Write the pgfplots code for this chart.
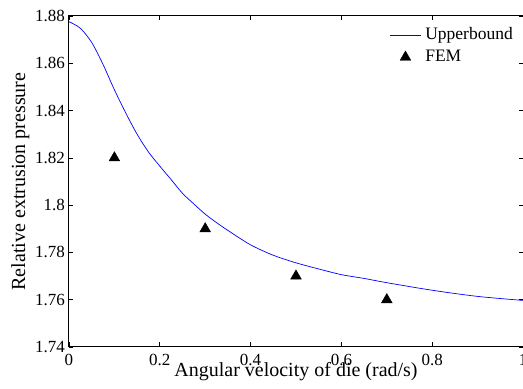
\documentclass[border=0pt]{standalone}
\usepackage{pgfplots}
\pgfplotsset{compat=1.18}
\usepackage{fontspec}
\setmainfont{Liberation Serif}
\usetikzlibrary{calc}
\begin{document}
\begin{tikzpicture}
\begin{axis}[
  name=ax,
  width=454pt, height=331pt, scale only axis,
  xmin=0, xmax=1, ymin=1.74, ymax=1.88,
  xtick={0,0.2,0.4,0.6,0.8,1},
  ytick={1.74,1.76,1.78,1.80,1.82,1.84,1.86,1.88},
  /pgf/number format/assume math mode=true,
  /pgf/number format/fixed,
  tick align=inside, major tick length=4.5pt,
  tick style={black, line width=0.6pt},
  axis line style={black, line width=1pt},
  ticklabel style={font=\fontsize{17}{19}\selectfont},
  xticklabel style={anchor=base, yshift=-19pt, inner sep=0pt},
  yticklabel style={anchor=east, inner sep=0pt, xshift=-4pt},
  label style={font=\fontsize{20}{22}\selectfont},
  xlabel={Angular velocity of die (rad/s)},
  ylabel={Relative extrusion pressure},
  xlabel style={at={(axis description cs:0.5,0)}, anchor=base, yshift=-30pt, inner sep=0pt},
  ylabel style={at={(axis description cs:-0.0969,0.5)}, anchor=base, rotate=0, inner sep=0pt},
  legend style={draw=none, fill=none, at={(rel axis cs:1,1)}, anchor=north east,
    xshift=-10pt, yshift=-11pt, inner sep=0pt, font=\fontsize{17.5}{19}\selectfont,
    nodes={inner sep=0pt, text height=12pt, text depth=4pt},
    row sep=6pt},
  legend cell align=left,
  legend image code/.code={%
    \draw[mark repeat=2,mark phase=2,#1] plot coordinates {(0pt,0pt) (15.5pt,0pt) (31pt,0pt)};
    \path (35pt,0pt);},
]
\addplot[blue, line width=0.7pt, smooth] coordinates {
(0,1.8776) (0.025,1.8748) (0.05,1.8688) (0.075,1.8595) (0.1,1.8488)
(0.125,1.8390) (0.15,1.8300) (0.175,1.8225) (0.2,1.8165) (0.225,1.8108)
(0.25,1.8050) (0.275,1.8005) (0.3,1.7962) (0.325,1.7926) (0.35,1.7893)
(0.4,1.7832) (0.45,1.7788) (0.5,1.7756) (0.55,1.7730) (0.6,1.7706)
(0.65,1.7690) (0.7,1.7672) (0.8,1.7640) (0.9,1.7614) (1.0,1.7597)
};
\addlegendentry{Upperbound}
\addplot[only marks, mark=triangle*, mark size=6.2pt, black] coordinates {
(0.1,1.82) (0.3,1.79) (0.5,1.77) (0.7,1.76)
};
\addlegendentry{FEM}
\end{axis}
\pgfresetboundingbox
\path[use as bounding box] ($(ax.south west)+(-69pt,-42pt)$) rectangle ($(ax.north east)+(0pt,16pt)$);
\end{tikzpicture}
\end{document}
